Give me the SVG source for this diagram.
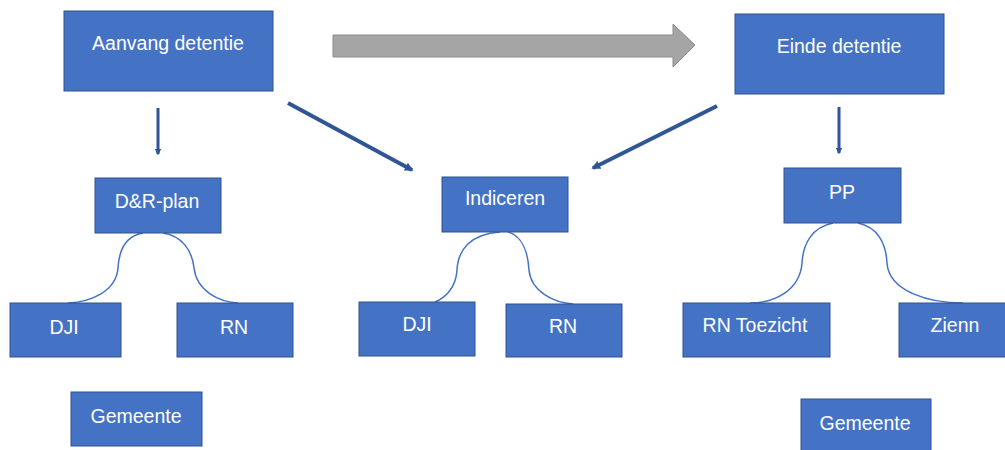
<svg xmlns="http://www.w3.org/2000/svg" width="1005" height="450" viewBox="0 0 1005 450">
<style>
.box{fill:#4472C4;stroke:#2F528F;stroke-width:1}
.lbl{fill:#fff;font-family:"Liberation Sans",Arial,sans-serif;font-size:19.5px;text-anchor:middle}
.arr{stroke:#2F5597;fill:none}
.crv{stroke:#4472C4;stroke-width:1.5;fill:none}
</style>
<defs>
<marker id="ah" viewBox="0 0 10 10" refX="8" refY="5" markerWidth="2.2" markerHeight="2.4" orient="auto" markerUnits="strokeWidth">
<path d="M0,0 L10,5 L0,10 z" fill="#2F5597"/>
</marker>
</defs>
<rect width="1005" height="450" fill="#fff"/>
<g id="connectors">
<path d="M333,35 H673 V24 L695,45 L673,67 V57 H333 Z" fill="#A5A5A5" stroke="#8C8C8C" stroke-width="1"/>
<line class="arr" x1="158" y1="108" x2="158" y2="154" stroke-width="3" marker-end="url(#ah)"/>
<line class="arr" x1="839" y1="107" x2="839" y2="153" stroke-width="3" marker-end="url(#ah)"/>
<line class="arr" x1="288" y1="103" x2="412" y2="170" stroke-width="4" marker-end="url(#ah)"/>
<line class="arr" x1="717" y1="106" x2="593" y2="168" stroke-width="4" marker-end="url(#ah)"/>
<path class="crv" d="M143,233 C125,236 119,250 118,268 C116,292 90,302 68,303"/>
<path class="crv" d="M163,233 C182,236 192,250 194,268 C197,292 220,302 238,303"/>
<path class="crv" d="M500,232 C470,234 458,250 457,270 C456,288 445,298 435,302"/>
<path class="crv" d="M508,232 C522,236 528,252 529,270 C531,292 555,303 573,304"/>
<path class="crv" d="M833,223 C812,227 803,244 802,263 C800,290 775,303 750,303"/>
<path class="crv" d="M858,223 C878,227 886,244 887,263 C889,292 930,303 963,303"/>
</g>
<g id="aanvang"><rect class="box" x="64" y="11" width="209" height="80"/><text class="lbl" x="168" y="50">Aanvang detentie</text></g>
<g id="einde"><rect class="box" x="735" y="14" width="209" height="80"/><text class="lbl" x="839" y="53">Einde detentie</text></g>
<g id="drplan"><rect class="box" x="95" y="178" width="126" height="55"/><text class="lbl" x="157" y="208">D&amp;R-plan</text></g>
<g id="dji1"><rect class="box" x="10" y="303" width="111" height="54"/><text class="lbl" x="64" y="334">DJI</text></g>
<g id="rn1"><rect class="box" x="177" y="303" width="116" height="54"/><text class="lbl" x="234" y="334">RN</text></g>
<g id="gemeente1"><rect class="box" x="71" y="392" width="131" height="54"/><text class="lbl" x="136" y="423">Gemeente</text></g>
<g id="indiceren"><rect class="box" x="442" y="177" width="126" height="55"/><text class="lbl" x="505" y="205">Indiceren</text></g>
<g id="dji2"><rect class="box" x="359" y="302" width="116" height="54"/><text class="lbl" x="417" y="331">DJI</text></g>
<g id="rn2"><rect class="box" x="506" y="304" width="116" height="53"/><text class="lbl" x="563" y="333">RN</text></g>
<g id="pp"><rect class="box" x="784" y="168" width="117" height="55"/><text class="lbl" x="842" y="199">PP</text></g>
<g id="rntoezicht"><rect class="box" x="683" y="303" width="147" height="54"/><text class="lbl" x="755" y="332">RN Toezicht</text></g>
<g id="zienn"><rect class="box" x="899" y="303" width="110" height="54"/><text class="lbl" x="955" y="332">Zienn</text></g>
<g id="gemeente2"><rect class="box" x="801" y="399" width="130" height="55"/><text class="lbl" x="865" y="430">Gemeente</text></g>
</svg>
